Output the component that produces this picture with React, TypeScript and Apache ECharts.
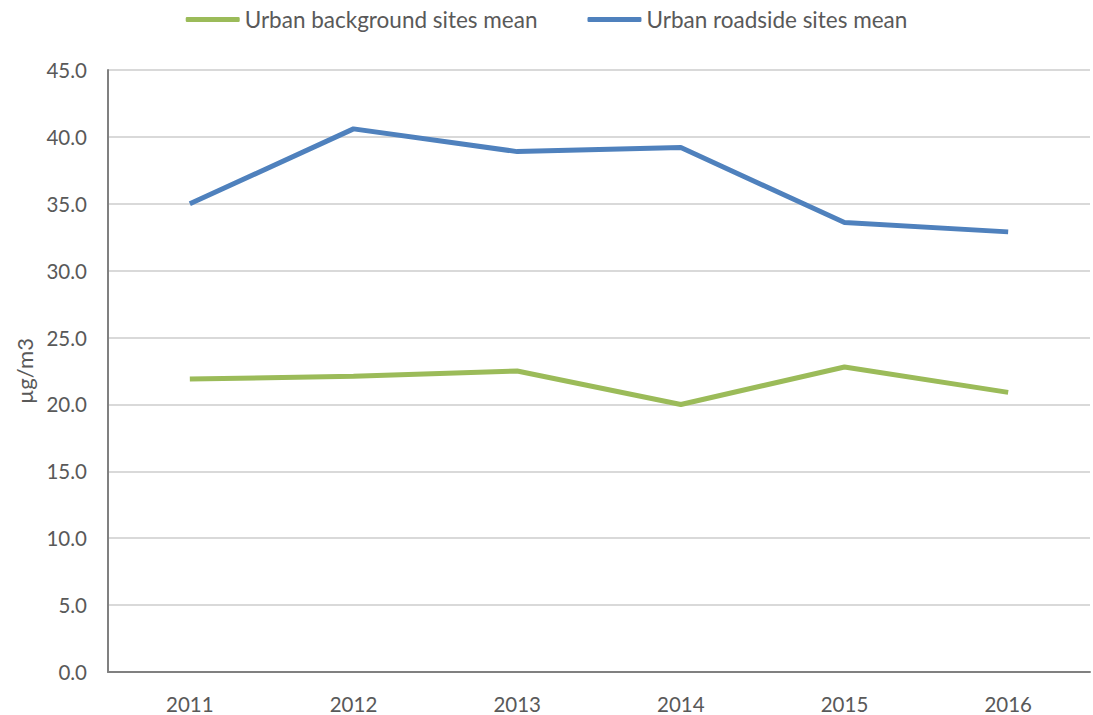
import React, { useEffect, useRef } from "react";
import * as echarts from "echarts";

const years = ["2011", "2012", "2013", "2014", "2015", "2016"];
const backgroundMean = [21.9, 22.1, 22.5, 20.0, 22.8, 20.9];
const roadsideMean = [35.0, 40.6, 38.9, 39.2, 33.6, 32.9];
const seriesNames = ["Urban background sites mean", "Urban roadside sites mean"];
const colors = ["#9BBB59", "#4F81BD"];

const FONT = "Lato, 'Open Sans', sans-serif";

export default function App() {
  const ref = useRef<HTMLDivElement>(null);
  useEffect(() => {
    if (!ref.current) return;
    const chart = echarts.init(ref.current, undefined, { renderer: "svg" });
    chart.setOption({
      animation: false,
      backgroundColor: "#ffffff",
      textStyle: { fontFamily: FONT },
      legend: {
        top: 3,
        left: "center",
        itemWidth: 54,
        itemHeight: 5,
        itemGap: 50,
        icon: "roundRect",
        textStyle: { fontSize: 22.5, color: "#595959", fontFamily: FONT },
        data: seriesNames,
      },
      grid: { left: 108, right: 3, top: 70, bottom: 43, containLabel: false },
      xAxis: {
        type: "category",
        data: years,
        boundaryGap: true,
        axisLine: { show: true, lineStyle: { color: "#808080", width: 2 } },
        axisTick: { show: false },
        axisLabel: { fontSize: 20.5, color: "#595959", margin: 21, fontFamily: FONT },
        splitLine: { show: false },
      },
      yAxis: {
        type: "value",
        min: 0,
        max: 45,
        interval: 5,
        name: "µg/m3",
        nameLocation: "middle",
        nameGap: 72,
        nameRotate: 90,
        nameTextStyle: { fontSize: 22, color: "#595959", fontFamily: FONT },
        axisLine: { show: true, lineStyle: { color: "#808080", width: 2 } },
        axisTick: { show: false },
        axisLabel: {
          fontSize: 20.5,
          color: "#595959",
          margin: 21,
          fontFamily: FONT,
          formatter: (v: number) => v.toFixed(1),
        },
        splitLine: { show: true, lineStyle: { color: "#D9D9D9", width: 2 } },
      },
      series: [
        {
          name: seriesNames[0],
          type: "line",
          data: backgroundMean,
          symbol: "none",
          lineStyle: { color: colors[0], width: 5 },
          itemStyle: { color: colors[0] },
        },
        {
          name: seriesNames[1],
          type: "line",
          data: roadsideMean,
          symbol: "none",
          lineStyle: { color: colors[1], width: 5 },
          itemStyle: { color: colors[1] },
        },
      ],
    });
    return () => chart.dispose();
  }, []);
  return (
    <div
      ref={ref}
      style={{ width: 1093, height: 715, position: "absolute", left: 0, top: 0 }}
    />
  );
}
